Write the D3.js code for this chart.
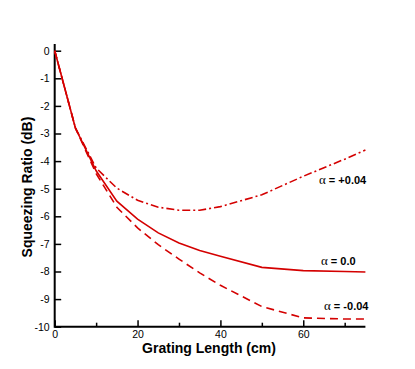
<!DOCTYPE html>
<html>
<head>
<meta charset="utf-8">
<script src="https://cdn.jsdelivr.net/npm/d3@7"></script>
<style>
  body { margin: 0; background: #fff; }
  svg { display: block; font-family: "Liberation Sans", Arial, sans-serif; }
</style>
</head>
<body>
<script>
// grating length (cm)
const lengths = [0, 5, 10, 15, 20, 25, 30, 35, 40, 50, 60, 70, 75];

// squeezing ratio (dB) for each alpha
const ratioPlus = [0, -2.8, -4.25, -4.98, -5.42, -5.67, -5.78, -5.78, -5.65, -5.22, -4.55, -3.93, -3.6];
const ratioZero = [0, -2.8, -4.35, -5.45, -6.1, -6.6, -6.97, -7.24, -7.45, -7.85, -7.97, -8.0, -8.02];
const ratioMinus = [0, -2.8, -4.45, -5.67, -6.42, -7.03, -7.55, -8.05, -8.5, -9.27, -9.68, -9.72, -9.72];

const seriesNames = ['+0.04', '0.0', '-0.04'];
const xTicks = [0, 20, 40, 60];
const xMinor = [10, 30, 50, 70];
const yTicks = [0, -1, -2, -3, -4, -5, -6, -7, -8, -9, -10];

const width = 415, height = 369;
const red = '#d40000';

let svg = d3.select('body')
    .append('svg')
    .attr('width', width)
    .attr('height', height);

let x = d3.scaleLinear().domain([0, 75]).range([54.7, 365.4]);
let y = d3.scaleLinear().domain([-10, 0]).range([326.7, 50.7]);

// x axis, ticks point inward
let xAxis = svg.append('g')
    .attr('transform', 'translate(0,' + y(-10) + ')')
    .call(d3.axisBottom(x).tickValues(xTicks).tickSizeInner(-6.5).tickSizeOuter(0).tickPadding(4));
svg.append('g')
    .attr('transform', 'translate(0,' + y(-10) + ')')
    .call(d3.axisBottom(x).tickValues(xMinor).tickSizeInner(-4).tickSizeOuter(0).tickFormat(''))
    .call(g => g.select('.domain').remove());

let yAxis = svg.append('g')
    .attr('transform', 'translate(' + x(0) + ',0)')
    .call(d3.axisLeft(y).tickValues(yTicks).tickSizeInner(-6.5).tickSizeOuter(0).tickPadding(5)
        .tickFormat(d => d === 0 ? '0' : '-' + Math.abs(d)));

svg.selectAll('.tick line').attr('stroke', '#000').attr('stroke-width', 1.5);
svg.selectAll('.tick text').attr('font-size', 10.5).attr('fill', '#000')
    .attr('font-family', '"Liberation Sans", Arial, sans-serif');
svg.selectAll('.domain').remove();

// axis lines
svg.append('line')
    .attr('x1', x(0)).attr('x2', x(75))
    .attr('y1', y(-10)).attr('y2', y(-10))
    .attr('stroke', '#000').attr('stroke-width', 2);
svg.append('line')
    .attr('x1', x(0)).attr('x2', x(0))
    .attr('y1', y(-10) + 1).attr('y2', y(0.24))
    .attr('stroke', '#000').attr('stroke-width', 2);

// curves
let line = d3.line()
    .x(d => x(d[0]))
    .y(d => y(d[1]));

let allSeries = [ratioPlus, ratioZero, ratioMinus];
let dashes = ['8,3,2,3', null, '8,5'];

allSeries.forEach(function(vals, i) {
    let pts = lengths.map((l, j) => [l, vals[j]]);
    svg.append('path')
        .datum(pts)
        .attr('d', line)
        .attr('fill', 'none')
        .attr('stroke', red)
        .attr('stroke-width', 1.6)
        .attr('stroke-dasharray', dashes[i]);
});

// curve labels
let labelPos = [[319, 184], [321, 265], [324, 310]];
seriesNames.forEach(function(name, i) {
    let t = svg.append('text')
        .attr('x', labelPos[i][0])
        .attr('y', labelPos[i][1])
        .attr('font-size', 11)
        .attr('fill', '#000');
    t.append('tspan')
        .attr('font-family', '"Liberation Serif", "DejaVu Serif", serif')
        .attr('font-size', 13)
        .text('α');
    t.append('tspan')
        .attr('font-weight', 'bold')
        .text(' = ' + name);
});

// axis titles
svg.append('text')
    .attr('x', 209)
    .attr('y', 353)
    .attr('text-anchor', 'middle')
    .attr('font-size', 14)
    .attr('font-weight', 'bold')
    .text('Grating Length (cm)');

svg.append('text')
    .attr('transform', 'translate(32,187) rotate(-90)')
    .attr('text-anchor', 'middle')
    .attr('font-size', 14)
    .attr('font-weight', 'bold')
    .text('Squeezing Ratio (dB)');
</script>
</body>
</html>
